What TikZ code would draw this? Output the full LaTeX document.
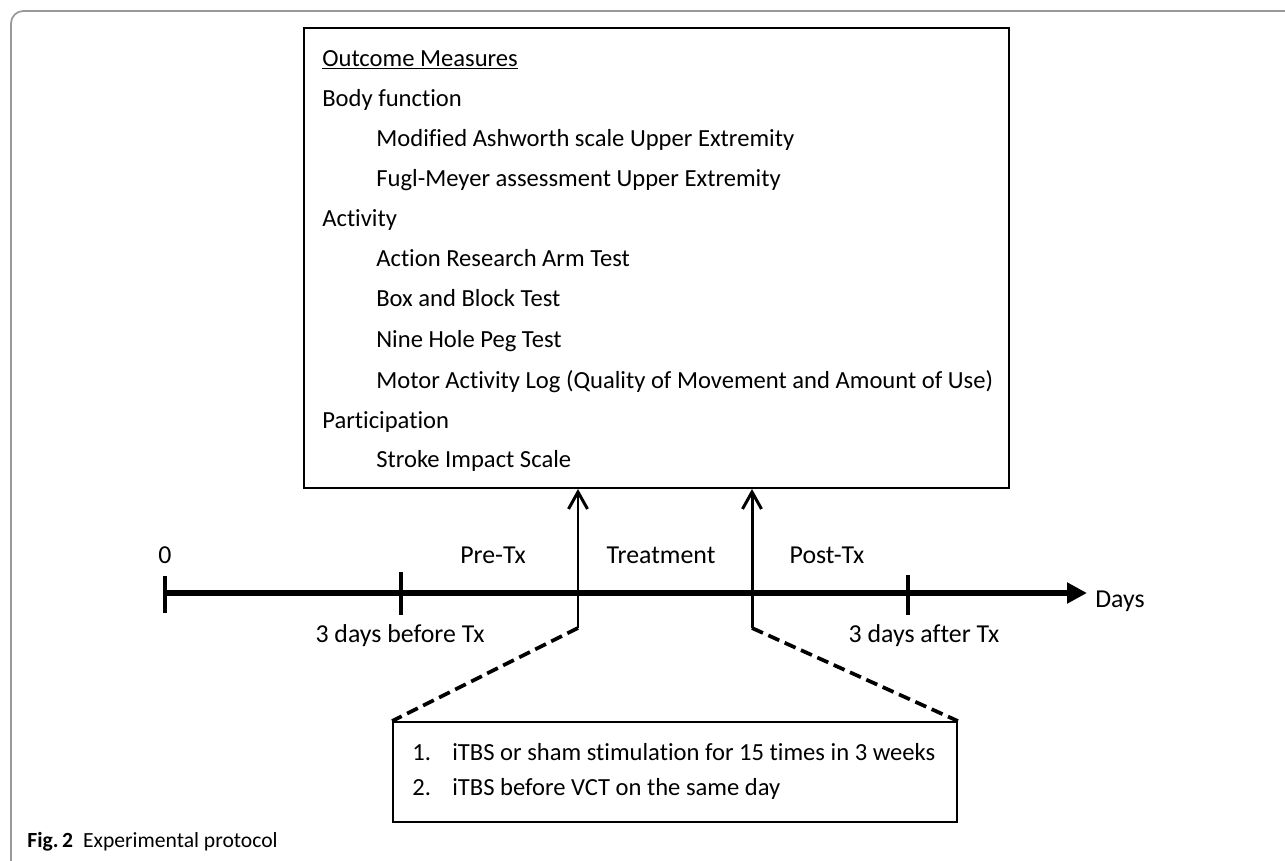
\documentclass[tikz,border=0pt]{standalone}
\usepackage{fontspec}
\setmainfont{Carlito}[Ligatures=CommonOff]
\usetikzlibrary{arrows.meta,calc,positioning}
\tikzset{
  framebox/.style={draw=gray!80, line width=1pt, rounded corners=7pt},
  measbox/.style={draw, line width=1.1pt, minimum width=14.1cm, minimum height=9.2cm, inner sep=0pt},
  stimbox/.style={draw, line width=1.1pt, minimum width=11.28cm, minimum height=2cm, inner sep=0pt},
  boxtext/.style={anchor=base west, inner sep=0pt, font=\fontsize{14}{16}\selectfont},
  axislabel/.style={anchor=base, inner sep=0pt, font=\fontsize{14.7}{17}\selectfont},
  axisline/.style={line width=3.4pt, -{Triangle[length=0.4cm, width=0.4cm]}},
  tickline/.style={line width=2pt},
  uparrow/.style={line width=1.7pt, -{Straight Barb[length=0.34cm, width=0.38cm]}},
  zoomline/.style={line width=2.1pt, dash pattern=on 6.8pt off 3.4pt},
  captext/.style={anchor=base west, inner sep=0pt, font=\fontsize{12.3}{14}\selectfont}
}

\begin{document}
\begin{tikzpicture}[x=0.02cm, y=-0.02cm]
  \useasboundingbox (0,0) rectangle (1285,860);
  \draw[framebox] (11,900) -- (11,11) -- (1320,11);

  % outcome measures
  \node[measbox] (outcome) at (656.5,258) {};
  \node[boxtext] (m1) at (322,66) {\underline{Outcome Measures}};
  \node[boxtext] (m2) at (322,106) {Body function};
  \node[boxtext] (m3) at (376,146) {Modified Ashworth scale Upper Extremity};
  \node[boxtext] (m4) at (376,186) {Fugl-Meyer assessment Upper Extremity};
  \node[boxtext] (m5) at (322,226) {Activity};
  \node[boxtext] (m6) at (376,266) {Action Research Arm Test};
  \node[boxtext] (m7) at (376,306) {Box and Block Test};
  \node[boxtext] (m8) at (376,347) {Nine Hole Peg Test};
  \node[boxtext] (m9) at (376,388) {Motor Activity Log (Quality of Movement and Amount of Use)};
  \node[boxtext] (m10) at (322,428) {Participation};
  \node[boxtext] (m11) at (376,467) {Stroke Impact Scale};

  % time axis
  \coordinate (ax0) at (165,593);
  \coordinate (axend) at (1087,593);
  \coordinate (pre) at (401,593);
  \coordinate (post) at (908,593);
  \coordinate (k1) at (578,628);
  \coordinate (k2) at (752,628);
  \draw[axisline] (ax0) -- (axend);
  \draw[tickline] ($(ax0)+(0,-17)$) -- ($(ax0)+(0,20)$);
  \draw[tickline] ($(pre)+(0,-21)$) -- ($(pre)+(0,22)$);
  \draw[tickline] ($(post)+(0,-18)$) -- ($(post)+(0,22)$);

  \node[axislabel] (zero) at (165,563) {0};
  \node[axislabel] (pretx) at (493,563) {Pre-Tx};
  \node[axislabel] (treat) at (661,563) {Treatment};
  \node[axislabel] (posttx) at (827,563) {Post-Tx};
  \node[axislabel] (before) at (400,642) {3 days before Tx};
  \node[axislabel] (after) at (924,642) {3 days after Tx};
  \node[axislabel, anchor=base west] (days) at (1095,607) {Days};

  % stimulation
  \node[stimbox] (stim) at (675,772) {};
  \node[boxtext] (s1n) at (412,760) {1.};
  \node[boxtext] (s1) at (452,760) {iTBS or sham stimulation for 15 times in 3 weeks};
  \node[boxtext] (s2n) at (412,795) {2.};
  \node[boxtext] (s2) at (452,795) {iTBS before VCT on the same day};

  \draw[uparrow] (k1) -- (k1 |- outcome.south);
  \draw[uparrow] (k2) -- (k2 |- outcome.south);
  \draw[zoomline] (k1) -- (stim.north west);
  \draw[zoomline] (k2) -- (stim.north east);

  \node[captext] (caption) at (27,847) {\textbf{Fig.\,2}\hspace{0.2cm}Experimental protocol};
\end{tikzpicture}
\end{document}
